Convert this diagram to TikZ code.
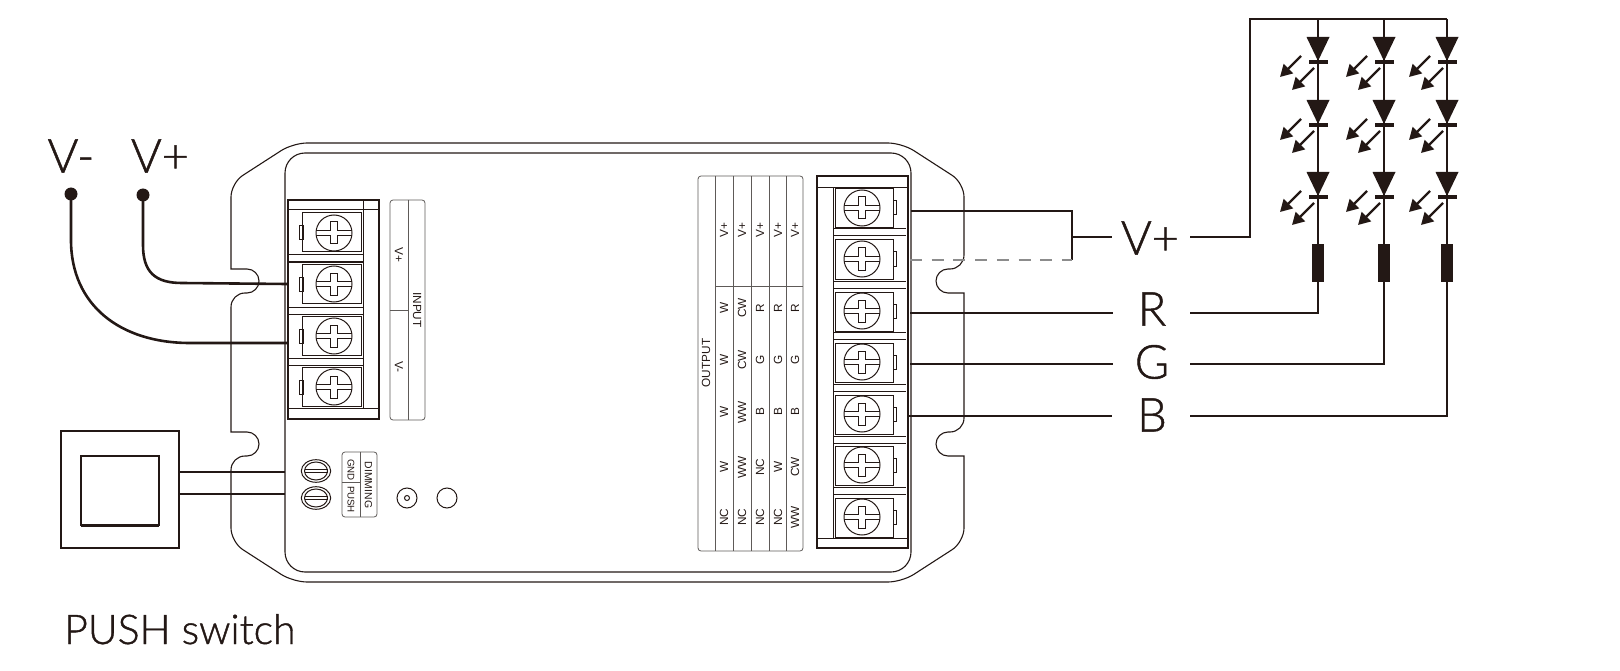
\documentclass[tikz,border=0pt]{standalone}
\usepackage{fontspec}
\usetikzlibrary{arrows.meta}
\setmainfont{Liberation Sans}
\newfontfamily\bigfont[FakeBold = 1]{Lato Light}
\definecolor{ink}{HTML}{231815}
\definecolor{panelgrey}{HTML}{5E5A58}
\definecolor{dashgrey}{HTML}{8C8C8C}

\tikzset{
  screwhead/.pic = {
    \draw (0, 0) circle [radius = 18];
    \draw (-17.8, -2.5) -- (-3.3, -2.5) -- (-3.3, -11) -- (3.3, -11) -- (3.3, -2.5) -- (17.8, -2.5);
    \draw (-17.8, 2.5) -- (-3.3, 2.5) -- (-3.3, 11) -- (3.3, 11) -- (3.3, 2.5) -- (17.8, 2.5);
  },
  slothead/.pic = {
    \draw (0, 0) ellipse [x radius = 14.7, y radius = 11.3];
    \draw (0, 0) ellipse [x radius = 11.5, y radius = 9];
    \draw (-11.5, -1.5) -- (11.5, -1.5) (-11.5, 1.5) -- (11.5, 1.5);
  },
  lamp/.pic = {
    \fill (-11.5, -25) -- (11.5, -25) -- (0, -1) -- cycle;
    \fill (-9.5, -1.7) rectangle (9.5, 1.7);
    \draw [line width = 2.4pt, -{Triangle[length = 12pt, width = 13pt]}] (-17, -6) -- (-38, 15);
    \draw [line width = 2.4pt, -{Triangle[length = 12pt, width = 13pt]}] (-4, 6) -- (-26, 28);
  }
}

\begin{document}
\begin{tikzpicture}[
    x = 1pt, y = -1pt,
    color = ink,
    housing/.style = {line width = 1.1pt},
    block/.style = {line width = 1.6pt},
    cell/.style = {line width = 1pt},
    wire/.style = {line width = 2.6pt},
    panel/.style = {draw = panelgrey, line width = 0.8pt},
    paneltext/.style = {font = \fontsize{11.8}{13}\selectfont, inner sep = 0pt},
    dimtext/.style = {font = \fontsize{9.7}{11}\selectfont, inner sep = 0pt},
    bigtext/.style = {font = \bigfont\fontsize{47}{50}\selectfont, inner sep = 0pt}
    ]
    \useasboundingbox (0, 0) rectangle (1620, 671);

    % housing
    \draw [housing, rounded corners = 14pt] (293, 143) -- (902, 143) -- (964, 183)
    -- (964, 269) [sharp corners] -- (948, 269) arc [start angle = -90, end angle = -270, radius = 12]
    -- (964, 293) [rounded corners = 14pt] -- (964, 432) [sharp corners] -- (948, 432)
    arc [start angle = -90, end angle = -270, radius = 12]
    -- (964, 456) [rounded corners = 14pt] -- (964, 542) -- (902, 582) -- (293, 582) -- (231, 542)
    -- (231, 456) [sharp corners] -- (247, 456) arc [start angle = 90, end angle = -90, radius = 12]
    -- (231, 432) [rounded corners = 14pt] -- (231, 293) [sharp corners] -- (247, 293)
    arc [start angle = 90, end angle = -90, radius = 12]
    -- (231, 269) [rounded corners = 14pt] -- (231, 183) -- cycle;
    \draw [housing, rounded corners = 20pt] (285, 153) rectangle (911, 572);

    % input terminals
    \draw [block] (288, 200) rectangle (379, 419);
    \draw [cell] (288, 210) -- (379, 210) (288, 408) -- (379, 408) (363, 200) -- (363, 408);
    \foreach \sy in {255, 307, 358} {
      \draw [cell] (288, \sy) -- (363, \sy) (288, \sy + 7) -- (363, \sy + 7);
    }
    \foreach \i/\sy in {1/233, 2/284, 3/336, 4/387} {
      \draw [cell] (302, \sy - 20) rectangle (361, \sy + 19);
      \draw [cell] (299, \sy - 7) rectangle (303, \sy + 7);
      \pic at (334, \sy) [cell] {screwhead};
      \coordinate (IN\i) at (287, \sy);
    }

    % input panel
    \draw [panel, rounded corners = 3pt] (390, 200) rectangle (425, 420);
    \draw [panel] (408, 200) -- (408, 420) (390, 310) -- (408, 310);
    \node at (399, 255) [paneltext, rotate = -90, name = INVP] {V+};
    \node at (399, 367) [paneltext, rotate = -90, name = INVM] {V-};
    \node at (417, 310) [paneltext, rotate = -90, name = INPUT] {INPUT};

    % output terminals
    \draw [block] (817, 176) rectangle (908, 548);
    \draw [cell] (817, 188) -- (908, 188) (817, 538) -- (908, 538) (833, 188) -- (833, 538);
    \foreach \sy in {229, 281, 332, 384, 436, 487} {
      \draw [cell] (833, \sy) -- (906, \sy) (833, \sy + 7) -- (906, \sy + 7);
    }
    \foreach \i/\sy in {1/208, 2/259, 3/311, 4/362, 5/414, 6/465, 7/517} {
      \draw [cell] (835, \sy - 19) rectangle (893, \sy + 20);
      \draw [cell] (893, \sy - 7) rectangle (896, \sy + 7);
      \pic at (862, \sy) [cell] {screwhead};
    }

    % output panel
    \draw [panel, rounded corners = 3pt] (698, 176) rectangle (803, 551);
    \foreach \vx in {715, 733, 751, 769, 786} {
      \draw [panel] (\vx, 176) -- (\vx, 551);
    }
    \draw [panel] (715, 286) -- (803, 286);
    \node at (706, 363) [paneltext, rotate = 90, name = OUTPUT] {OUTPUT};
    \foreach \cx/\a/\b/\c/\d/\e in {724/W/W/W/W/NC, 742/CW/CW/WW/WW/NC, 760/R/G/B/NC/NC,
      778/R/G/B/W/NC, 795/R/G/B/CW/WW} {
      \node at (\cx, 230) [paneltext, rotate = 90] {V+};
      \node at (\cx, 308) [paneltext, rotate = 90] {\a};
      \node at (\cx, 360) [paneltext, rotate = 90] {\b};
      \node at (\cx, 412) [paneltext, rotate = 90] {\c};
      \node at (\cx, 467) [paneltext, rotate = 90] {\d};
      \node at (\cx, 517) [paneltext, rotate = 90] {\e};
    }

    % dimming terminals
    \pic at (316, 471) [cell] {slothead};
    \pic at (316, 498) [cell] {slothead};
    \draw [panel, rounded corners = 3pt] (342, 452) rectangle (377, 517);
    \draw [panel] (360, 452) -- (360, 517) (342, 482) -- (360, 482);
    \node at (368.5, 485) [dimtext, rotate = -90, font = \fontsize{10.4}{12}\selectfont, name = DIM] {DIMMING};
    \node at (351, 470) [dimtext, rotate = -90, name = GND] {GND};
    \node at (351, 499.5) [dimtext, rotate = -90, name = PUSHLBL] {PUSH};
    \draw [cell] (407, 498) circle [radius = 10] (407, 498) circle [radius = 2.5];
    \draw [cell] (447, 498) circle [radius = 10];

    % mains side
    \node at (71, 156) [bigtext, name = VM] {V-};
    \node at (160, 156) [bigtext, name = VP] {V+};
    \fill (71, 194) circle [radius = 6.5] coordinate (dotM);
    \fill (143, 195) circle [radius = 6.5] coordinate (dotP);
    \draw [wire] (dotP) -- (143, 245) .. controls (143, 272) and (155, 283) .. (182, 283) -- (IN2);
    \draw [wire] (dotM) -- (71, 240) .. controls (71, 305) and (120, 343) .. (190, 343) -- (IN3 |- 0, 343);

    % switch
    \draw [line width = 1.9pt] (61, 431) rectangle (179, 548);
    \draw [line width = 1.9pt] (81, 456) rectangle (159, 525);
    \draw [line width = 3pt] (81, 525) -- (159, 525);
    \coordinate (SW1) at (179, 472);
    \coordinate (SW2) at (179, 494);
    \draw [wire] (SW1) -- (285, 472);
    \draw [wire] (SW2) -- (285, 494);
    \node at (64, 644) [anchor = base west, font = \bigfont\fontsize{41}{44}\selectfont, inner sep = 0pt, name = SWT] {PUSH switch};

    % led side
    \node at (1150, 238) [bigtext, name = LVP] {V+};
    \node at (1152, 309) [bigtext, name = LR] {R};
    \node at (1152, 362) [bigtext, name = LG] {G};
    \node at (1152, 415) [bigtext, name = LB] {B};

    \coordinate (T1) at (911, 211);
    \coordinate (T2) at (910, 260);
    \coordinate (T3) at (910, 313);
    \coordinate (T4) at (910, 364);
    \coordinate (T5) at (908, 416);
    \coordinate (VJ) at (1072, 237);
    \coordinate (rail) at (1250, 19);

    \draw [wire] (T1) -- (1072, 211) -- (1072, 260);
    \draw [line width = 2.8pt, draw = dashgrey, dash pattern = on 12pt off 9.7pt] (T2) -- (1072, 260);
    \draw [wire] (VJ) -- (1112, 237);
    \draw [wire] (1190, 237) -| (rail) -- (1447, 19);

    \foreach \cx in {1318, 1384, 1447} {
      \draw [wire] (\cx, 19) -- (\cx, 244);
      \foreach \by in {62, 125, 197} {
        \pic at (\cx, \by) {lamp};
      }
      \fill (\cx - 6, 244) rectangle (\cx + 6, 282);
    }

    \draw [wire] (T3) -- (1113, 313);
    \draw [wire] (T4) -- (1113, 364);
    \draw [wire] (T5) -- (1112, 416);
    \draw [wire] (1190, 313) -| (1318, 282);
    \draw [wire] (1190, 364) -| (1384, 282);
    \draw [wire] (1190, 416) -| (1447, 282);
  \end{tikzpicture}
\end{document}
